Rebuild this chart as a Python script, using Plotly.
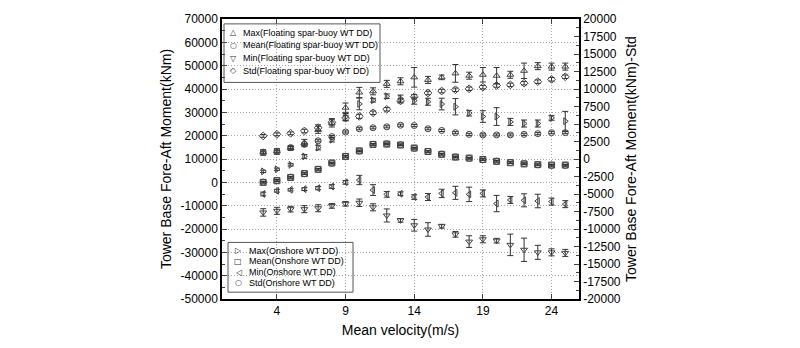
import plotly.graph_objects as go

velocity = list(range(3, 26))

# Floating spar-buoy WT DD (left axis except Std -> right axis)
fl_max = [12800, 13200, 14700, 16900, 22500, 25500, 32000, 38500, 39000, 42200, 43300, 45000, 43900, 45000,
          46700, 45700, 46100, 45700, 46100, 47800, 49800, 49600, 49600]
fl_max_err = [1200, 1200, 1000, 1500, 1500, 1800, 2000, 2200, 1500, 1500, 1500, 4200, 1500, 1000,
              3800, 1500, 3100, 3500, 1500, 3300, 1500, 1500, 1500]
fl_mean = [100, 800, 2200, 3700, 5600, 8200, 11200, 13400, 16300, 16500, 16100, 14600, 13300, 12100,
           10900, 10300, 9700, 9100, 8500, 8000, 7500, 7300, 7300]
fl_mean_err = [400] * 23
fl_min = [-12900, -12200, -11500, -11500, -11100, -10100, -9200, -8750, -10700, -14200, -16300, -18400,
          -20200, -18800, -22300, -25400, -24400, -25000, -26800, -28900, -30000, -30000, -30250]
fl_min_err = [1600, 1500, 1200, 1500, 1500, 1000, 1000, 1600, 1500, 2800, 800, 2500, 2900, 800,
              1200, 2500, 1500, 1000, 4600, 5000, 3000, 1500, 1500]
fl_std = [3300, 3530, 3670, 4000, 4460, 5250, 5850, 6090, 6600, 7100, 8300, 8900, 9430, 9710,
          9890, 10030, 10270, 10500, 10590, 10830, 11050, 11380, 11750]
fl_std_err = [200, 200, 200, 250, 420, 420, 400, 300, 250, 250, 300, 300, 250, 250,
              250, 250, 250, 250, 250, 250, 250, 250, 250]

# Onshore WT DD
on_max = [4700, 5600, 7500, 11100, 14900, 18300, 28000, 33600, 35200, 36900, 35900, 35000, 34550, 33550,
          32400, 29650, 28200, 28200, 25900, 25200, 25200, 27600, 26200]
on_max_err = [500, 500, 500, 800, 1000, 1000, 1500, 2500, 800, 1000, 1500, 1500, 1500, 2500,
              3500, 1200, 2500, 3800, 1500, 1500, 1500, 1000, 4200]
on_mean = [0, 700, 2100, 3750, 5550, 8300, 11100, 13500, 16250, 16400, 16000, 14700, 13200, 12000,
           10800, 10400, 9800, 9000, 8400, 7900, 7600, 7400, 7400]
on_mean_err = [300] * 23
on_min = [-5000, -3600, -3200, -2900, -2500, -1800, 0, 1000, -3300, -5150, -4900, -6300, -6300, -4750,
          -4500, -5150, -4750, -9100, -7550, -7700, -8000, -8250, -9350]
on_min_err = [800, 600, 500, 600, 700, 800, 800, 2000, 2300, 1200, 800, 1000, 1500, 1800,
              2800, 3100, 1500, 3500, 1500, 2800, 2900, 1500, 1500]
on_std = [975, 1115, 1630, 2090, 2600, 3200, 3860, 4320, 4460, 4600, 4830, 4780, 4320, 4080,
          3760, 3520, 3440, 3440, 3440, 3520, 3620, 3760, 3760]
on_std_err = [150] * 23

x_ticks = [4, 9, 14, 19, 24]
y_left_ticks = list(range(-50000, 70001, 10000))
y_right_ticks = list(range(-20000, 20001, 2500))

legend1_items = [("\u25b3", "Max(Floating spar-buoy WT DD)"),
                 ("\u25cb", "Mean(Floating spar-buoy WT DD)"),
                 ("\u25bd", "Min(Floating spar-buoy WT DD)"),
                 ("\u25c7", "Std(Floating spar-buoy WT DD)")]
legend2_items = [("\u25b7", "Max(Onshore WT DD)"),
                 ("\u25a1", "Mean(Onshore WT DD)"),
                 ("\u25c1", "Min(Onshore WT DD)"),
                 ("\u25cb", "Std(Onshore WT DD)")]

MC = "#444444"
EC = "#333333"
GRID = "#a8a8a8"
FONT = "Liberation Sans, Arial, sans-serif"


def add(name, y, err, symbol, yaxis="y"):
    fig.add_trace(go.Scatter(
        x=velocity, y=y, name=name, mode="markers", yaxis=yaxis, showlegend=False,
        marker=dict(symbol=symbol, size=6, color=MC, line=dict(color=MC, width=1)),
        error_y=dict(type="data", array=err, color=EC, thickness=1, width=3),
    ))


fig = go.Figure()
add("Max(Floating spar-buoy WT DD)", fl_max, fl_max_err, "triangle-up-open")
add("Mean(Floating spar-buoy WT DD)", fl_mean, fl_mean_err, "circle-open")
add("Min(Floating spar-buoy WT DD)", fl_min, fl_min_err, "triangle-down-open")
add("Std(Floating spar-buoy WT DD)", fl_std, fl_std_err, "diamond-open", "y2")
add("Max(Onshore WT DD)", on_max, on_max_err, "triangle-right-open")
add("Mean(Onshore WT DD)", on_mean, on_mean_err, "square-open")
add("Min(Onshore WT DD)", on_min, on_min_err, "triangle-left-open")
add("Std(Onshore WT DD)", on_std, on_std_err, "circle-open", "y2")

# Plot area geometry (px) for the in-plot legend boxes
L, T, W, H = 222, 13, 357, 287


def px(xp):
    return (xp - L) / W


def py(yp):
    return (T + H - yp) / H


annotations = []
shapes = []


def legend_box(items, x0, x1, y0, y1, sym_x, txt_x, first_y, step):
    shapes.append(dict(type="rect", xref="paper", yref="paper",
                       x0=px(x0), x1=px(x1), y0=py(y1), y1=py(y0),
                       line=dict(color="#555555", width=1)))
    for i, (sym, txt) in enumerate(items):
        yy = py(first_y + i * step)
        annotations.append(dict(xref="paper", yref="paper", x=px(sym_x), y=yy, text=sym,
                                showarrow=False, xanchor="center", yanchor="middle",
                                font=dict(family="DejaVu Sans", size=8, color="#333")))
        annotations.append(dict(xref="paper", yref="paper", x=px(txt_x), y=yy, text=txt,
                                showarrow=False, xanchor="left", yanchor="middle",
                                font=dict(family=FONT, size=9, color="black")))


legend_box(legend1_items, 224, 380, 18, 78, 233, 241, 27, 13)
legend_box(legend2_items, 228, 353, 242, 293, 238, 247, 250.5, 11)

fig.update_layout(
    width=800, height=348,
    margin=dict(l=L, r=800 - L - W, t=T, b=348 - T - H),
    paper_bgcolor="white", plot_bgcolor="white",
    font=dict(family=FONT, size=12, color="black"),
    showlegend=False,
    annotations=annotations,
    shapes=shapes,
    xaxis=dict(
        range=[0, 26], tickvals=x_ticks, ticktext=[str(v) for v in x_ticks],
        ticks="inside", ticklen=5,
        showline=True, linecolor="black", linewidth=1.5, mirror="ticks",
        showgrid=True, gridcolor=GRID, griddash="1px,2px", gridwidth=1, zeroline=False,
        title=dict(text="Mean velocity(m/s)", font=dict(size=14), standoff=8),
        tickfont=dict(size=12),
    ),
    yaxis=dict(
        range=[-50000, 70000], tickvals=y_left_ticks, ticktext=[str(v) for v in y_left_ticks],
        ticks="inside", ticklen=5,
        minor=dict(dtick=5000, ticks="inside", ticklen=3, showgrid=False),
        showline=True, linecolor="black", linewidth=1.5,
        showgrid=True, gridcolor=GRID, griddash="1px,2px", gridwidth=1, zeroline=False,
        title=dict(text="Tower Base Fore-Aft Moment(kNm)", font=dict(size=14), standoff=6),
        tickfont=dict(size=12),
    ),
    yaxis2=dict(
        range=[-20000, 20000], tickvals=y_right_ticks, ticktext=[str(v) for v in y_right_ticks],
        ticks="inside", ticklen=5, overlaying="y", side="right",
        minor=dict(dtick=1250, ticks="inside", ticklen=3, showgrid=False),
        showline=True, linecolor="black", linewidth=1.5, showgrid=False, zeroline=False,
        title=dict(text="Tower Base Fore-Aft Moment(kNm)-Std", font=dict(size=14), standoff=6),
        tickfont=dict(size=12),
    ),
)

fig.write_html("out.html")
